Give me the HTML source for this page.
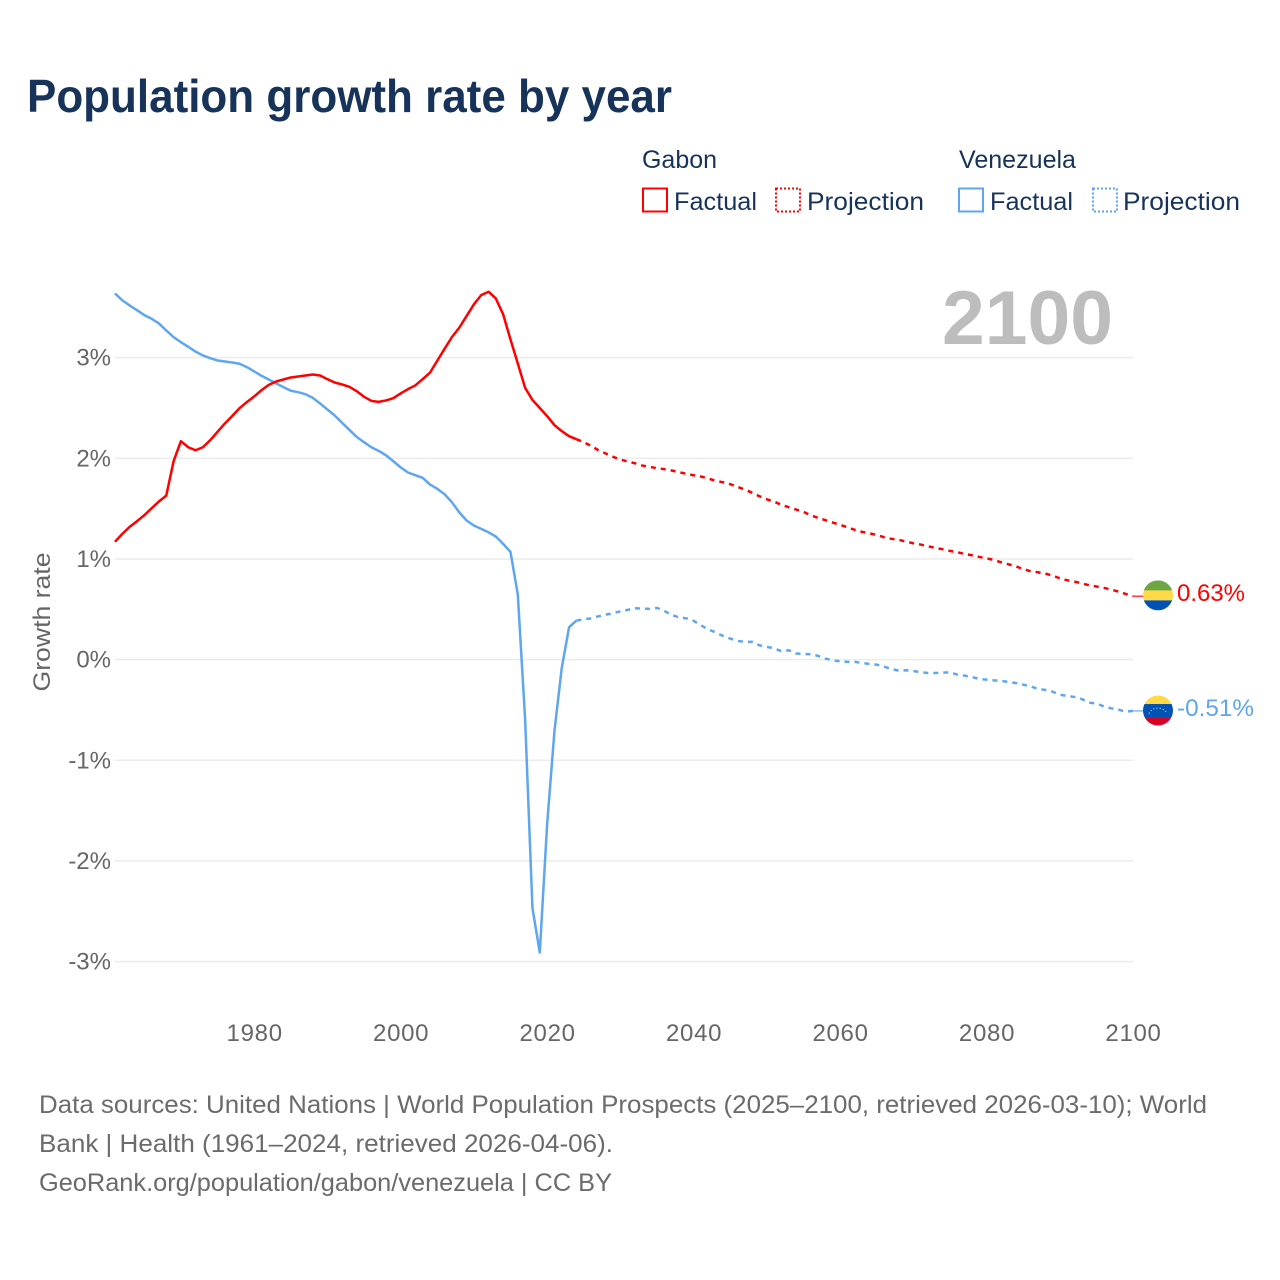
<!DOCTYPE html>
<html lang="en">
<head>
<meta charset="utf-8">
<title>Population growth rate by year</title>
<style>
  html, body { margin: 0; padding: 0; background: #ffffff; }
  svg { display: block; }
  text { font-family: "Liberation Sans", sans-serif; }
</style>
</head>
<body>
<svg id="chart" xmlns="http://www.w3.org/2000/svg" width="1280" height="1280" viewBox="0 0 1280 1280">
  <rect x="0" y="0" width="1280" height="1280" fill="#ffffff"/>
  <text x="27" y="112" font-size="46" font-weight="700" fill="#18335a" textLength="645" lengthAdjust="spacingAndGlyphs">Population growth rate by year</text>

  <g font-size="25" fill="#18335a">
    <text x="642" y="168" textLength="75" lengthAdjust="spacingAndGlyphs">Gabon</text>
    <g>
      <rect x="643" y="188.5" width="24" height="23" fill="none" stroke="#ff0000" stroke-width="2"/>
      <text x="674" y="210" textLength="83" lengthAdjust="spacingAndGlyphs">Factual</text>
    </g>
    <g>
      <rect x="776" y="188.5" width="24" height="23" fill="none" stroke="#ff0000" stroke-width="2" stroke-dasharray="2 2"/>
      <text x="807" y="210" textLength="117" lengthAdjust="spacingAndGlyphs">Projection</text>
    </g>
    <text x="959" y="168" textLength="117" lengthAdjust="spacingAndGlyphs">Venezuela</text>
    <g>
      <rect x="959" y="188.5" width="24" height="23" fill="none" stroke="#5ea6ee" stroke-width="2"/>
      <text x="990" y="210" textLength="83" lengthAdjust="spacingAndGlyphs">Factual</text>
    </g>
    <g>
      <rect x="1093" y="188.5" width="24" height="23" fill="none" stroke="#5ea6ee" stroke-width="2" stroke-dasharray="2 2"/>
      <text x="1123" y="210" textLength="117" lengthAdjust="spacingAndGlyphs">Projection</text>
    </g>
  </g>

  <g id="grid"></g>
  <text x="1113" y="344" text-anchor="end" font-size="76" font-weight="700" fill="#bdbdbd" textLength="171" lengthAdjust="spacingAndGlyphs">2100</text>
  <g id="y-ticks"></g>
  <g id="x-ticks"></g>
  <text transform="translate(50 622) rotate(-90)" text-anchor="middle" font-size="24" fill="#666666" textLength="139" lengthAdjust="spacingAndGlyphs">Growth rate</text>
  <g id="series"></g>

  <g id="flag-gabon">
    <clipPath id="clip-gabon"><circle cx="0" cy="0" r="15"/></clipPath>
    <g clip-path="url(#clip-gabon)">
      <rect x="-15" y="-15" width="30" height="10.5" fill="#6da544"/>
      <rect x="-15" y="-5" width="30" height="10" fill="#ffda44"/>
      <rect x="-15" y="5" width="30" height="10" fill="#0052b4"/>
    </g>
  </g>
  <g id="flag-venezuela">
    <clipPath id="clip-venezuela"><circle cx="0" cy="0" r="15"/></clipPath>
    <g clip-path="url(#clip-venezuela)">
      <rect x="-15" y="-15" width="30" height="9" fill="#ffda44"/>
      <rect x="-15" y="-6.5" width="30" height="13" fill="#0052b4"/>
      <rect x="-15" y="6.5" width="30" height="9" fill="#d80027"/>
      <path d="M-9 3 A 9.5 8 0 0 1 9 3" fill="none" stroke="#f0f0f0" stroke-width="1" stroke-dasharray="1 2.2"/>
    </g>
  </g>
  <text id="label-gabon" x="1177" y="601" font-size="24" fill="#ff0000" textLength="68" lengthAdjust="spacingAndGlyphs">0.63%</text>
  <text id="label-venezuela" x="1177" y="716" font-size="24" fill="#5ea6ee" textLength="77" lengthAdjust="spacingAndGlyphs">-0.51%</text>

  <g font-size="25" fill="#6b6b6b">
    <text x="39" y="1113" textLength="1168" lengthAdjust="spacingAndGlyphs">Data sources: United Nations | World Population Prospects (2025–2100, retrieved 2026-03-10); World</text>
    <text x="39" y="1152" textLength="574" lengthAdjust="spacingAndGlyphs">Bank | Health (1961–2024, retrieved 2026-04-06).</text>
    <text x="39" y="1191" textLength="573" lengthAdjust="spacingAndGlyphs">GeoRank.org/population/gabon/venezuela | CC BY</text>
  </g>
</svg>
<script>
const yTickValues = [3, 2, 1, 0, -1, -2, -3];
const yTickLabels = ["3%", "2%", "1%", "0%", "-1%", "-2%", "-3%"];
const xTickYears = [1980, 2000, 2020, 2040, 2060, 2080, 2100];
const xTickLabels = ["1980", "2000", "2020", "2040", "2060", "2080", "2100"];
const factualStartYear = 1961;
const projectionStartYear = 2024;
const gabonFactual = [
  1.17, 1.249, 1.319, 1.375, 1.434, 1.504, 1.571, 1.63, 1.971,
  2.17, 2.11, 2.08, 2.11, 2.18, 2.263, 2.346, 2.42, 2.498, 2.558,
  2.614, 2.677, 2.73, 2.763, 2.783, 2.803, 2.813, 2.823, 2.833, 2.823,
  2.786, 2.753, 2.734, 2.71, 2.667, 2.611, 2.571, 2.561, 2.575, 2.597,
  2.644, 2.687, 2.724, 2.786, 2.85, 2.969, 3.088, 3.204, 3.297, 3.413,
  3.529, 3.621, 3.655, 3.588, 3.43, 3.181, 2.942, 2.70, 2.58, 2.50,
  2.42, 2.33, 2.27, 2.22, 2.19
];
const gabonProjection = [
  2.19, 2.16, 2.124, 2.08, 2.048, 2.015,
  1.988, 1.968, 1.951, 1.928, 1.915, 1.902, 1.892, 1.879, 1.862, 1.846,
  1.832, 1.819, 1.80, 1.776, 1.762, 1.743, 1.716, 1.69, 1.657, 1.623,
  1.593, 1.57, 1.537, 1.514, 1.491, 1.468, 1.434, 1.408, 1.385, 1.362,
  1.339, 1.315, 1.289, 1.269, 1.255, 1.239, 1.216, 1.20, 1.19, 1.173,
  1.156, 1.143, 1.126, 1.11, 1.097, 1.08, 1.067, 1.05, 1.037, 1.02,
  1.007, 0.99, 0.967, 0.947, 0.927, 0.90, 0.878, 0.868, 0.855, 0.835,
  0.808, 0.788, 0.775, 0.758, 0.739, 0.726, 0.713, 0.696, 0.676, 0.653,
  0.63
];
const venezuelaFactual = [
  3.638, 3.569, 3.519, 3.472, 3.423, 3.386, 3.34, 3.27, 3.204,
  3.154, 3.108, 3.06, 3.022, 2.995, 2.972, 2.962, 2.952, 2.939, 2.906,
  2.863, 2.82, 2.783, 2.744, 2.707, 2.671, 2.657, 2.637, 2.601, 2.545,
  2.485, 2.425, 2.353, 2.283, 2.213, 2.16, 2.11, 2.074, 2.03, 1.971,
  1.91, 1.859, 1.832, 1.806, 1.74, 1.697, 1.643, 1.564, 1.464, 1.382,
  1.332, 1.299, 1.265, 1.223, 1.15, 1.07, 0.646, -0.596, -2.468, -2.91,
  -1.64, -0.713, -0.083, 0.321, 0.388
];
const venezuelaProjection = [
  0.388, 0.40, 0.41, 0.43, 0.447, 0.46,
  0.48, 0.494, 0.51, 0.507, 0.504, 0.514, 0.484, 0.444, 0.42, 0.41,
  0.385, 0.341, 0.30, 0.271, 0.236, 0.209, 0.186, 0.176, 0.176, 0.142,
  0.126, 0.112, 0.083, 0.093, 0.06, 0.057, 0.053, 0.037, 0.01, -0.007,
  -0.017, -0.023, -0.023, -0.033, -0.043, -0.05, -0.07, -0.093, -0.11, -0.106,
  -0.113, -0.126, -0.133, -0.133, -0.13, -0.126, -0.149, -0.159, -0.173, -0.192,
  -0.199, -0.206, -0.212, -0.222, -0.232, -0.249, -0.265, -0.291, -0.301, -0.318,
  -0.348, -0.361, -0.371, -0.391, -0.427, -0.437, -0.464, -0.484, -0.497, -0.517,
  -0.51
];

const NS = "http://www.w3.org/2000/svg";
const plotLeft = 115;
const plotRight = 1133;
const xDomainStart = 1961;
const xDomainEnd = 2100;
const zeroY = 659.6;
const pxPerPercent = 100.65;
const flagX = 1158;

function xScale(year) {
  return plotLeft + (year - xDomainStart) * (plotRight - plotLeft) / (xDomainEnd - xDomainStart);
}
function yScale(value) {
  return zeroY - value * pxPerPercent;
}
function linePoints(values, startYear) {
  return values.map(function (v, i) {
    return xScale(startYear + i).toFixed(2) + "," + yScale(v).toFixed(2);
  }).join(" ");
}

const gridGroup = document.getElementById("grid");
const yTickGroup = document.getElementById("y-ticks");
const xTickGroup = document.getElementById("x-ticks");
const seriesGroup = document.getElementById("series");

yTickValues.forEach(function (value, i) {
  const line = document.createElementNS(NS, "line");
  
  
  line.setAttribute("x1", plotLeft);
  line.setAttribute("x2", plotRight);
  line.setAttribute("y1", yScale(value));
  line.setAttribute("y2", yScale(value));
  line.setAttribute("stroke", "#ececec");
  line.setAttribute("stroke-width", "1.5");
  gridGroup.appendChild(line);

  const label = document.createElementNS(NS, "text");
  
  
  label.setAttribute("x", 111);
  label.setAttribute("y", yScale(value) + 8);
  label.setAttribute("text-anchor", "end");
  label.setAttribute("font-size", "24");
  label.setAttribute("fill", "#666666");
  label.textContent = yTickLabels[i];
  yTickGroup.appendChild(label);
});

xTickYears.forEach(function (year, i) {
  const label = document.createElementNS(NS, "text");
  
  
  label.setAttribute("x", xScale(year) + 0.5);
  label.setAttribute("y", 1041);
  label.setAttribute("text-anchor", "middle");
  label.setAttribute("font-size", "24");
  label.setAttribute("letter-spacing", "0.7");
  label.setAttribute("fill", "#666666");
  label.textContent = xTickLabels[i];
  xTickGroup.appendChild(label);
});

function addConnector(values, color, name) {
  const last = values[values.length - 1];
  const connector = document.createElementNS(NS, "line");
  
  
  connector.setAttribute("x1", xScale(xDomainEnd));
  connector.setAttribute("x2", flagX);
  connector.setAttribute("y1", yScale(last));
  connector.setAttribute("y2", yScale(last));
  connector.setAttribute("stroke", color);
  connector.setAttribute("stroke-width", "1.2");
  seriesGroup.appendChild(connector);
}

function addSeries(values, startYear, color, dashed, name) {
  const path = document.createElementNS(NS, "polyline");
  
  
  path.setAttribute("points", linePoints(values, startYear));
  path.setAttribute("fill", "none");
  path.setAttribute("stroke", color);
  path.setAttribute("stroke-width", "2.5");
  path.setAttribute("stroke-linejoin", "round");
  if (dashed) {
    path.setAttribute("stroke-dasharray", "5 5");
  }
  seriesGroup.appendChild(path);
}

addSeries(venezuelaFactual, factualStartYear, "#5ea6ee", false, "line-venezuela-factual");
addSeries(venezuelaProjection, projectionStartYear, "#5ea6ee", true, "line-venezuela-projection");
addSeries(gabonFactual, factualStartYear, "#ff0000", false, "line-gabon-factual");
addSeries(gabonProjection, projectionStartYear, "#ff0000", true, "line-gabon-projection");
addConnector(gabonProjection, "#ff0000", "connector-gabon");
addConnector(venezuelaProjection, "#5ea6ee", "connector-venezuela");

const gabonLast = gabonProjection[gabonProjection.length - 1];
const venezuelaLast = venezuelaProjection[venezuelaProjection.length - 1];
document.getElementById("flag-gabon").setAttribute("transform", "translate(" + flagX + " " + (yScale(gabonLast) - 0.8) + ")");
document.getElementById("flag-venezuela").setAttribute("transform", "translate(" + flagX + " " + (yScale(venezuelaLast) - 0.4) + ")");
</script>
</body>
</html>
